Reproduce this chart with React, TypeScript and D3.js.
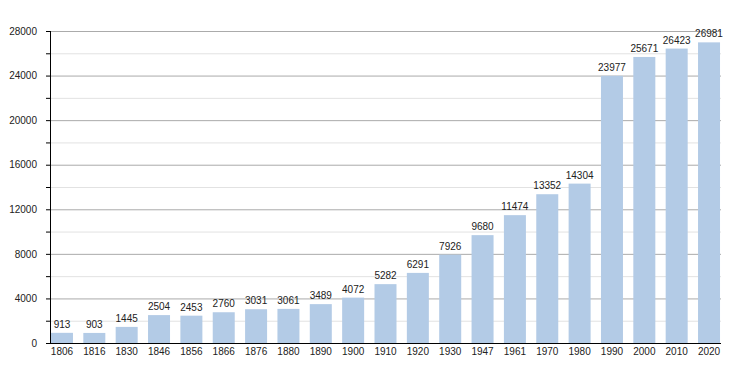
import React, { useEffect, useRef } from 'react';
import * as d3 from 'd3';

// Population by census year
const years = ['1806', '1816', '1830', '1846', '1856', '1866', '1876', '1880', '1890', '1900', '1910', '1920', '1930', '1947', '1961', '1970', '1980', '1990', '2000', '2010', '2020'];
const population = [913, 903, 1445, 2504, 2453, 2760, 3031, 3061, 3489, 4072, 5282, 6291, 7926, 9680, 11474, 13352, 14304, 23977, 25671, 26423, 26981];
const majorTicks = [0, 4000, 8000, 12000, 16000, 20000, 24000, 28000];
const minorTicks = [2000, 6000, 10000, 14000, 18000, 22000, 26000];

const BAR_COLOR = '#b3cbe6';
const FONT = '"Liberation Sans", Arial, sans-serif';

export default function App() {
  const svgRef = useRef<SVGSVGElement>(null);

  useEffect(() => {
    if (!svgRef.current) return;
    const width = 750;
    const height = 373;
    const margin = { top: 31, right: 29, bottom: 30, left: 50 };
    const innerWidth = width - margin.left - margin.right;
    const innerHeight = height - margin.top - margin.bottom;

    d3.select(svgRef.current).selectAll('*').remove();
    const svg = d3.select(svgRef.current).attr('width', width).attr('height', height);
    const g = svg.append('g').attr('transform', `translate(${margin.left},${margin.top})`);

    const x = d3.scaleBand<string>()
      .domain(years)
      .range([0, innerWidth])
      .paddingInner(0.32)
      .paddingOuter(0.03);

    const y = d3.scaleLinear().domain([0, 28000]).range([innerHeight, 0]);

    // Minor grid lines
    g.append('g')
      .selectAll('line')
      .data(minorTicks)
      .enter()
      .append('line')
      .attr('x1', 0)
      .attr('x2', innerWidth)
      .attr('y1', d => y(d) + 0.5)
      .attr('y2', d => y(d) + 0.5)
      .attr('stroke', '#e2e2e2')
      .attr('stroke-width', 1);

    // Major grid lines
    g.append('g')
      .selectAll('line')
      .data(majorTicks.filter(d => d > 0))
      .enter()
      .append('line')
      .attr('x1', 0)
      .attr('x2', innerWidth)
      .attr('y1', d => y(d) + 0.5)
      .attr('y2', d => y(d) + 0.5)
      .attr('stroke', '#ababab')
      .attr('stroke-width', 1);

    // Bars
    g.selectAll('.bar')
      .data(population)
      .enter()
      .append('rect')
      .attr('class', 'bar')
      .attr('x', (_d, i) => x(years[i])!)
      .attr('y', d => y(d))
      .attr('width', x.bandwidth())
      .attr('height', d => innerHeight - y(d))
      .attr('fill', BAR_COLOR);

    // Value labels
    g.selectAll('.value')
      .data(population)
      .enter()
      .append('text')
      .attr('class', 'value')
      .attr('text-anchor', 'middle')
      .attr('x', (_d, i) => x(years[i])! + x.bandwidth() / 2)
      .attr('y', d => y(d) - 5)
      .style('font-family', FONT)
      .style('font-size', '10px')
      .style('fill', '#222')
      .text(d => String(d));

    // Y axis
    const yAxis = d3.axisLeft(y).tickValues(majorTicks).tickSize(4).tickPadding(9).tickFormat(d => String(d));
    const yg = g.append('g').call(yAxis);
    yg.select('.domain').attr('stroke', '#000').attr('d', `M0.5,0V${innerHeight}`);
    yg.selectAll('.tick line').attr('stroke', '#000');
    yg.selectAll('text').style('font-family', FONT).style('font-size', '10px').style('fill', '#222');

    // Minor ticks on y axis
    g.append('g')
      .selectAll('line')
      .data(minorTicks)
      .enter()
      .append('line')
      .attr('x1', -4)
      .attr('x2', 0)
      .attr('y1', d => y(d) + 0.5)
      .attr('y2', d => y(d) + 0.5)
      .attr('stroke', '#000');

    // X axis
    const xAxis = d3.axisBottom(x).tickSize(0).tickPadding(5);
    const xg = g.append('g').attr('transform', `translate(0,${innerHeight})`).call(xAxis);
    xg.select('.domain').attr('stroke', '#000').attr('d', `M0,0.5H${innerWidth}`);
    xg.selectAll('text').style('font-family', FONT).style('font-size', '10px').style('fill', '#222');
  }, []);

  return (
    <div style={{ position: 'absolute', left: 0, top: 0 }}>
      <svg ref={svgRef} />
    </div>
  );
}
